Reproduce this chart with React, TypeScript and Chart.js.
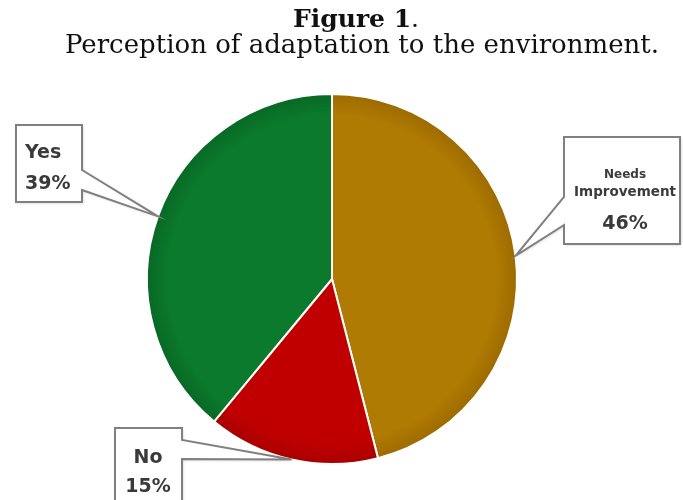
import { useEffect, useRef } from "react";
import { Chart, registerables } from "chart.js";

Chart.register(...registerables);

// Survey answers and their shares (percent)
const categories = ["Needs Improvement", "No", "Yes"];
const shares = [46, 15, 39];
const sliceColors = ["#B07B02", "#C00000", "#0B7A2C"];
const rimColors = ["#9C6A00", "#A80000", "#086824"];

const titleMain = "Figure 1";
const titleEnd = ".";
const subtitleText = "Perception of adaptation to the environment.";

// Label text per slice: lines of each callout
const calloutLines = [
  ["Needs", "Improvement", "46%"],
  ["No", "15%"],
  ["Yes", "39%"],
];

// Callout box layout (one per slice, same order as categories)
type Box = {
  x: number; y: number; w: number; h: number;
  side: "left" | "right";
  n1: number; n2: number;
  align: "left" | "center";
  tx: number;
  baselines: number[];
  fonts: string[];
};

const LABEL_FONT = "'DejaVu Sans', sans-serif";
const boxes: Box[] = [
  {
    x: 564, y: 137, w: 116, h: 107, side: "left", n1: 197, n2: 225,
    align: "center", tx: 625, baselines: [178, 196, 229],
    fonts: [`bold 12px ${LABEL_FONT}`, `bold 13.5px ${LABEL_FONT}`, `bold 19px ${LABEL_FONT}`],
  },
  {
    x: 115, y: 428, w: 67, h: 80, side: "right", n1: 440, n2: 459,
    align: "center", tx: 148, baselines: [463, 492],
    fonts: [`bold 19px ${LABEL_FONT}`, `bold 19px ${LABEL_FONT}`],
  },
  {
    x: 16, y: 125, w: 66, h: 77, side: "right", n1: 170, n2: 190,
    align: "left", tx: 25, baselines: [158, 189],
    fonts: [`bold 19px ${LABEL_FONT}`, `bold 19px ${LABEL_FONT}`],
  },
];

const headingPlugin = {
  id: "heading",
  afterDraw(chart: Chart) {
    const ctx = chart.ctx;
    ctx.save();
    ctx.fillStyle = "#111";
    ctx.textBaseline = "alphabetic";
    ctx.textAlign = "left";
    const boldFont = "bold 25px 'DejaVu Serif', serif";
    const regFont = "25px 'DejaVu Serif', serif";
    ctx.font = boldFont;
    const wMain = ctx.measureText(titleMain).width;
    ctx.font = regFont;
    const wEnd = ctx.measureText(titleEnd).width;
    const startX = 356 - (wMain + wEnd) / 2;
    ctx.font = boldFont;
    ctx.fillText(titleMain, startX, 27);
    ctx.font = regFont;
    ctx.fillText(titleEnd, startX + wMain, 27);
    ctx.font = "26px 'DejaVu Serif', serif";
    ctx.textAlign = "center";
    ctx.fillText(subtitleText, 362, 53);
    ctx.restore();
  },
};

const calloutPlugin = {
  id: "callouts",
  afterDraw(chart: Chart) {
    const ctx = chart.ctx;
    const meta = chart.getDatasetMeta(0);
    meta.data.forEach((arc: any, i: number) => {
      const b = boxes[i];
      if (!b) return;
      const { x, y, startAngle, endAngle, outerRadius } = arc.getProps(
        ["x", "y", "startAngle", "endAngle", "outerRadius"],
        true
      );
      const mid = (startAngle + endAngle) / 2;
      const tipX = x + Math.cos(mid) * outerRadius;
      const tipY = y + Math.sin(mid) * outerRadius;

      ctx.save();
      ctx.beginPath();
      if (b.side === "right") {
        ctx.moveTo(b.x, b.y);
        ctx.lineTo(b.x + b.w, b.y);
        ctx.lineTo(b.x + b.w, b.n1);
        ctx.lineTo(tipX, tipY);
        ctx.lineTo(b.x + b.w, b.n2);
        ctx.lineTo(b.x + b.w, b.y + b.h);
        ctx.lineTo(b.x, b.y + b.h);
      } else {
        ctx.moveTo(b.x, b.y);
        ctx.lineTo(b.x + b.w, b.y);
        ctx.lineTo(b.x + b.w, b.y + b.h);
        ctx.lineTo(b.x, b.y + b.h);
        ctx.lineTo(b.x, b.n2);
        ctx.lineTo(tipX, tipY);
        ctx.lineTo(b.x, b.n1);
      }
      ctx.closePath();
      ctx.shadowColor = "rgba(0,0,0,0.22)";
      ctx.shadowBlur = 3;
      ctx.shadowOffsetX = 1;
      ctx.shadowOffsetY = 1;
      ctx.fillStyle = "#ffffff";
      ctx.fill();
      ctx.shadowColor = "transparent";
      ctx.lineJoin = "miter";
      ctx.lineWidth = 2;
      ctx.strokeStyle = "#808080";
      ctx.stroke();

      ctx.fillStyle = "#3a3a3a";
      ctx.textAlign = b.align;
      ctx.textBaseline = "alphabetic";
      calloutLines[i].forEach((line, k) => {
        ctx.font = b.fonts[k];
        ctx.fillText(line, b.tx, b.baselines[k]);
      });
      ctx.restore();
    });
  },
};

function sliceFill(context: any) {
  const chart = context.chart;
  const area = chart.chartArea;
  const i = context.dataIndex;
  if (!area) return sliceColors[i];
  const cx = (area.left + area.right) / 2;
  const cy = (area.top + area.bottom) / 2;
  const r = Math.min(area.right - area.left, area.bottom - area.top) / 2;
  const g = chart.ctx.createRadialGradient(cx, cy, 0, cx, cy, r);
  g.addColorStop(0, sliceColors[i]);
  g.addColorStop(0.88, sliceColors[i]);
  g.addColorStop(1, rimColors[i]);
  return g;
}

export default function App() {
  const ref = useRef<HTMLCanvasElement>(null);

  useEffect(() => {
    if (!ref.current) return;
    const chart = new Chart(ref.current, {
      type: "pie",
      data: {
        labels: categories,
        datasets: [
          {
            data: shares,
            backgroundColor: sliceFill,
            borderColor: "#ffffff",
            borderWidth: 2,
          },
        ],
      },
      options: {
        responsive: false,
        maintainAspectRatio: false,
        animation: false,
        layout: { padding: { top: 93, bottom: 35, left: 146, right: 165 } },
        plugins: {
          legend: { display: false },
          tooltip: { enabled: false },
          title: { display: false },
        },
      },
      plugins: [headingPlugin, calloutPlugin],
    });
    return () => chart.destroy();
  }, []);

  return (
    <div style={{ position: "fixed", left: 0, top: 0, width: 683, height: 500, background: "#fff" }}>
      <canvas ref={ref} width={683} height={500} />
    </div>
  );
}
